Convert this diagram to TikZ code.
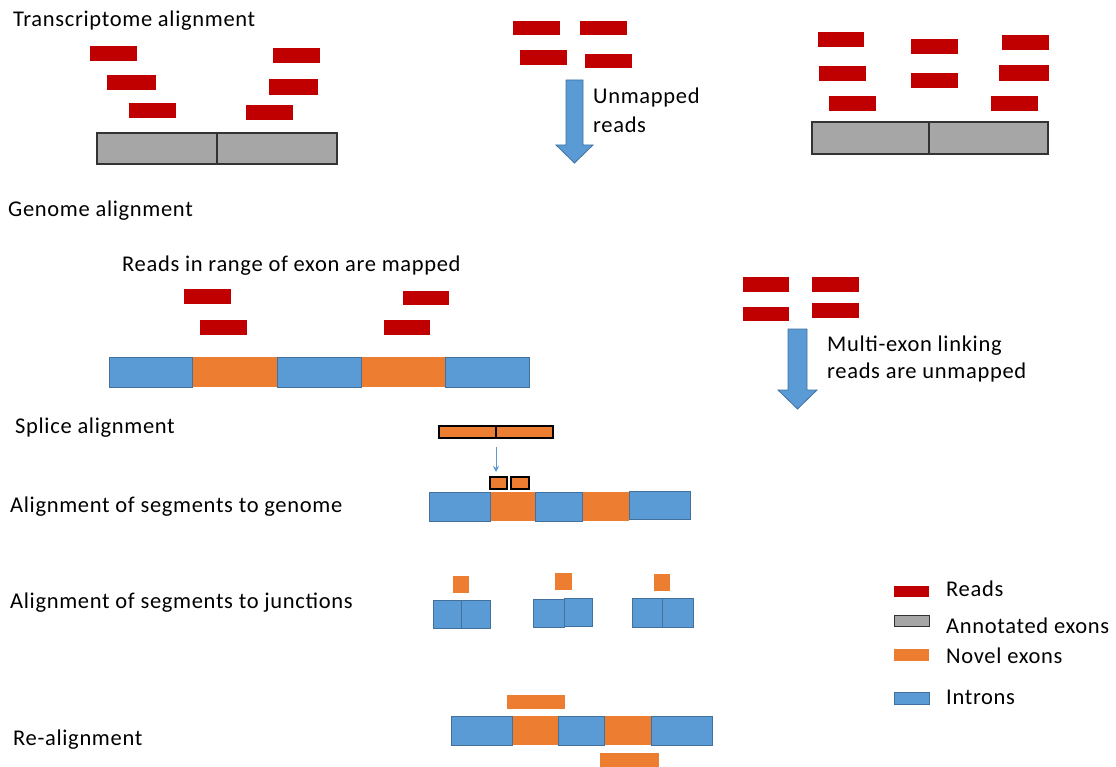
\documentclass[tikz,border=0pt]{standalone}
\usepackage{fontspec}
\setmainfont{Carlito}[LetterSpace=3]
\usetikzlibrary{arrows.meta}
\definecolor{readred}{HTML}{C00000}
\definecolor{exgray}{HTML}{A6A6A6}
\definecolor{novelc}{HTML}{ED7D31}
\definecolor{intronc}{HTML}{5B9BD5}
\definecolor{introndraw}{HTML}{41719C}
\newcommand\bx[6]{\node[#2, anchor=north west, minimum width={(#5-#3)*1pt}, minimum height={(#6-#4)*1pt}] (#1) at (#3,#4) {};}
\tikzset{
  box/.style={rectangle, inner sep=0pt, outer sep=0pt},
  read/.style={box, fill=readred},
  annot/.style={box, fill=exgray, draw=black!80, line width=1.3pt},
  novel/.style={box, fill=novelc},
  novelb/.style={box, fill=novelc, draw=black, line width=1.2pt},
  intron/.style={box, fill=intronc, draw=introndraw, line width=0.9pt},
  lbl/.style={anchor=base west, inner sep=0pt, font=\fontsize{22.5}{26}\selectfont},
  blockarrow/.style={fill=intronc, draw=introndraw, line width=0.8pt},
}
\begin{document}
\begin{tikzpicture}[x=1pt,y=-1pt]
\useasboundingbox[fill=white] (0,0) rectangle (1116,767);
% --- Transcriptome alignment
\node[lbl] (t0) at (13,27) {Transcriptome alignment};
\bx{t1}{read}{90}{46}{137}{61}
\bx{t2}{read}{107}{75}{156}{90}
\bx{t3}{read}{129}{103}{176}{118}
\bx{t4}{read}{273}{48}{320}{63}
\bx{t5}{read}{269}{79}{318}{95}
\bx{t6}{read}{246}{105}{293}{120}
\bx{g1}{annot}{97}{133}{217}{164}
\bx{g2}{annot}{217}{133}{337}{164}
% --- unmapped reads
\bx{m1}{read}{513}{21}{560}{35}
\bx{m2}{read}{580}{21}{627}{35}
\bx{m3}{read}{520}{50}{567}{65}
\bx{m4}{read}{585}{54}{632}{68}
\draw[blockarrow] (566,80) -- (583,80) -- (583,145) -- (593,145) -- (574.5,163) -- (556,145) -- (566,145) -- cycle;
\node[lbl] (u1) at (593,104) {Unmapped};
\node[lbl] (u2) at (593,133) {reads};
% --- top right
\bx{q1}{read}{818}{32}{864}{47}
\bx{q2}{read}{819}{66}{866}{81}
\bx{q3}{read}{829}{96}{876}{111}
\bx{q4}{read}{911}{39}{958}{54}
\bx{q5}{read}{911}{73}{958}{88}
\bx{q6}{read}{1002}{35}{1049}{50}
\bx{q7}{read}{999}{65}{1049}{81}
\bx{q8}{read}{991}{96}{1038}{111}
\bx{h1}{annot}{812}{122}{929}{154}
\bx{h2}{annot}{929}{122}{1048}{154}
% --- Genome alignment
\node[lbl] (ga) at (8,217) {Genome alignment};
\node[lbl] (gr) at (122,272) {Reads in range of exon are mapped};
\bx{k1}{read}{184}{289}{231}{304}
\bx{k2}{read}{200}{320}{247}{335}
\bx{k3}{read}{403}{291}{449}{305}
\bx{k4}{read}{384}{320}{430}{335}
\bx{b2}{novel}{192}{357}{277}{387}
\bx{b4}{novel}{361}{357}{445}{387}
\bx{b1}{intron}{109}{357}{192}{387}
\bx{b3}{intron}{277}{357}{361}{387}
\bx{b5}{intron}{445}{357}{529}{387}
% --- multi-exon
\bx{n1}{read}{743}{277}{789}{292}
\bx{n2}{read}{812}{277}{859}{292}
\bx{n3}{read}{743}{307}{789}{321}
\bx{n4}{read}{812}{303}{859}{318}
\draw[blockarrow] (788,329) -- (807,329) -- (807,390) -- (817,390) -- (797.5,409) -- (778,390) -- (788,390) -- cycle;
\node[lbl] (me1) at (827,351) {Multi-exon linking};
\node[lbl] (me2) at (827,378) {reads are unmapped};
% --- Splice alignment
\node[lbl] (sa0) at (15,433) {Splice alignment};
\bx{sp1}{novelb}{439}{426}{496}{438}
\bx{sp2}{novelb}{496}{426}{553}{438}
\bx{s1}{novelb}{490}{477}{507}{489}
\bx{s2}{novelb}{511}{477}{529}{489}
\coordinate (sa) at (496,447);
\coordinate (sb) at (496,472);
\draw[intronc, line width=0.9pt, -{Stealth[length=6pt,width=6pt]}] (sa) -- (sb);
\node[lbl] (sg) at (10,512) {Alignment of segments to genome};
\bx{c2}{novel}{490}{492}{535}{521}
\bx{c4}{novel}{582}{492}{629}{521}
\bx{c1}{intron}{429}{492}{490}{521}
\bx{c3}{intron}{535}{492}{582}{521}
\bx{c5}{intron}{629}{491}{690}{519}
% --- junctions
\node[lbl] (sj) at (10,608) {Alignment of segments to junctions};
\bx{o1}{novel}{453}{576}{469}{593}
\bx{o2}{novel}{555}{573}{572}{590}
\bx{o3}{novel}{654}{574}{670}{591}
\bx{j1a}{intron}{433}{600}{461}{628}
\bx{j1b}{intron}{461}{600}{490}{628}
\bx{j2a}{intron}{533}{599}{564}{627}
\bx{j2b}{intron}{564}{598}{592}{626}
\bx{j3a}{intron}{632}{598}{662}{627}
\bx{j3b}{intron}{662}{598}{693}{627}
% --- Re-alignment
\node[lbl] (re) at (13,745) {Re-alignment};
\bx{ra}{novel}{507}{695}{565}{709}
\bx{d2}{novel}{512}{716}{558}{745}
\bx{d4}{novel}{604}{716}{651}{745}
\bx{d1}{intron}{451}{716}{512}{745}
\bx{d3}{intron}{558}{716}{604}{745}
\bx{d5}{intron}{651}{716}{712}{745}
\bx{rb}{novel}{600}{753}{659}{767}
% --- legend
\bx{L1}{read}{894}{586}{929}{597}
\bx{L2}{annot, line width=1pt}{894}{615}{929}{626}
\bx{L3}{novel}{894}{649}{929}{661}
\bx{L4}{intron}{894}{692}{929}{704}
\node[lbl] (l1) at (946,596) {Reads};
\node[lbl] (l2) at (946,633) {Annotated exons};
\node[lbl] (l3) at (946,663) {Novel exons};
\node[lbl] (l4) at (946,704) {Introns};
\end{tikzpicture}
\end{document}
